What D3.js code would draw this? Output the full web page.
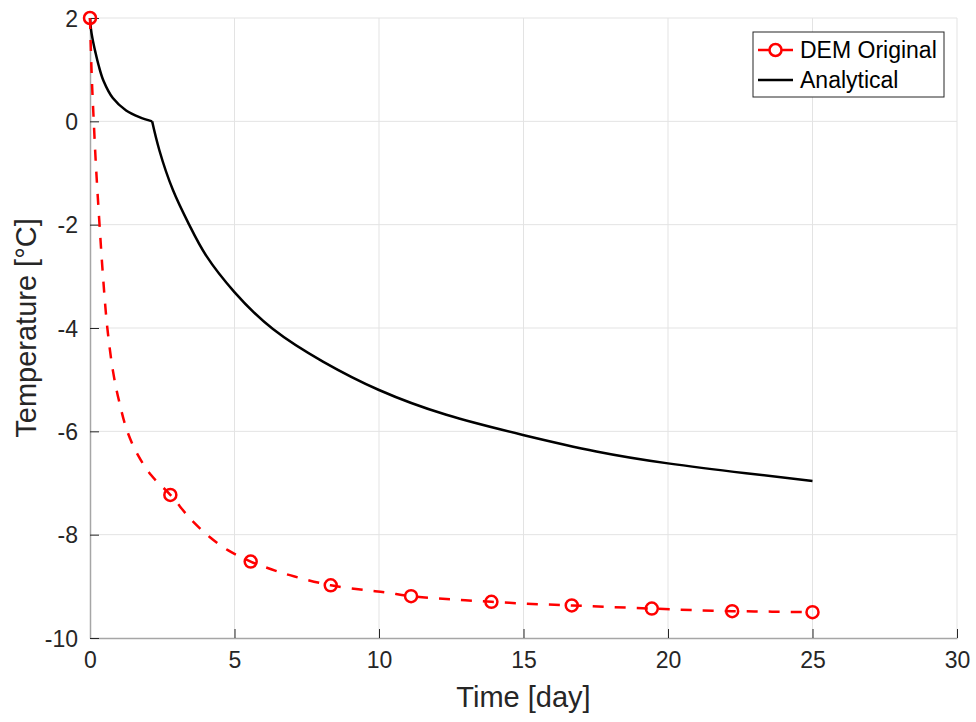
<!DOCTYPE html>
<html>
<head>
<meta charset="utf-8">
<script src="https://cdn.jsdelivr.net/npm/d3@7"></script>
<style>
  body { margin: 0; background: #fff; }
  svg text { font-family: "Liberation Sans", Arial, sans-serif; fill: #262626; }
</style>
</head>
<body>
<div id="chart"></div>
<script>
// DEM Original (dense line), days / °C
const demTime = [0, 0.04, 0.08, 0.13, 0.2, 0.33, 0.45, 0.6, 0.8, 1.0, 1.29, 1.65, 2.12, 2.78,
    3.5, 4.13, 4.77, 5.56, 6.27, 7.08, 8.33, 9.5, 10.25, 11.11, 12.5, 13.89, 15.3, 16.67, 18, 19.44, 20.8, 22.22, 23.6, 25]
const demTemp = [2, 1.2, 0.6, 0, -0.8, -2.0, -3.0, -4.0, -4.85, -5.4, -6.0, -6.45, -6.85, -7.23,
    -7.71, -8.04, -8.3, -8.52, -8.67, -8.81, -8.98, -9.07, -9.12, -9.19, -9.25, -9.3, -9.34, -9.37, -9.4, -9.43, -9.46, -9.48, -9.49, -9.5]
// markers every 25/9 days
const markerTime = [0, 2.78, 5.56, 8.33, 11.11, 13.89, 16.67, 19.44, 22.22, 25]
const markerTemp = [2, -7.23, -8.52, -8.98, -9.19, -9.3, -9.37, -9.43, -9.48, -9.5]

// Analytical
const anaTime = [0, 0.03, 0.08, 0.19, 0.3, 0.47, 0.79, 1.25, 1.71, 2.15, 2.4, 2.87, 3.44, 4.02, 4.99, 6.33, 8.06, 10,
    12.33, 14.98, 17.52, 20, 22.7, 25]
const anaTemp = [2, 1.8, 1.62, 1.33, 1.08, 0.78, 0.45, 0.21, 0.08, 0, -0.56, -1.33, -2.01, -2.6, -3.3, -4.02, -4.65, -5.2,
    -5.68, -6.07, -6.39, -6.62, -6.81, -6.96]

const xTicks = [0, 5, 10, 15, 20, 25, 30]
const yTicks = [-10, -8, -6, -4, -2, 0, 2]
const legendLabels = ["DEM Original", "Analytical"]

const width = 976, height = 722
const margin = {top: 18, right: 19, bottom: 84, left: 90}

const svg = d3.select("#chart").append("svg")
    .attr("width", width)
    .attr("height", height)

const xScale = d3.scaleLinear().domain([0, 30]).range([margin.left, width - margin.right])
const yScale = d3.scaleLinear().domain([-10, 2]).range([height - margin.bottom, margin.top])

// grid
svg.append("g").selectAll("line")
    .data(xTicks.slice(1))
    .join("line")
    .attr("x1", d => xScale(d)).attr("x2", d => xScale(d))
    .attr("y1", yScale(-10)).attr("y2", yScale(2))
    .attr("stroke", "#e3e3e3").attr("stroke-width", 1)
svg.append("g").selectAll("line")
    .data(yTicks.slice(1))
    .join("line")
    .attr("x1", xScale(0)).attr("x2", xScale(30))
    .attr("y1", d => yScale(d)).attr("y2", d => yScale(d))
    .attr("stroke", "#e3e3e3").attr("stroke-width", 1)

// axes (hyphen minus like the original, not d3's U+2212)
const fmt = d => String(d)
const xAxis = d3.axisBottom(xScale).tickValues(xTicks).tickFormat(fmt).tickSizeInner(-9).tickSizeOuter(0).tickPadding(14)
const yAxis = d3.axisLeft(yScale).tickValues(yTicks).tickFormat(fmt).tickSizeInner(-9).tickSizeOuter(0).tickPadding(12)

const gx = svg.append("g")
    .attr("transform", `translate(0, ${yScale(-10)})`)
    .call(xAxis)
const gy = svg.append("g")
    .attr("transform", `translate(${xScale(0)}, 0)`)
    .call(yAxis)

for (const g of [gx, gy]) {
    g.select(".domain").attr("stroke", "#a6a6a6").attr("stroke-width", 1.5)
    g.selectAll(".tick line").attr("stroke", "#262626").attr("stroke-width", 1)
    g.selectAll(".tick text").attr("font-size", 23).attr("fill", "#262626")
        .style("font-family", "'Liberation Sans', Arial, sans-serif")
}
gy.selectAll(".tick text").attr("dy", "0.36em")

// axis labels
svg.append("text")
    .attr("x", (xScale(0) + xScale(30)) / 2)
    .attr("y", 707)
    .attr("text-anchor", "middle")
    .attr("font-size", 29)
    .text("Time [day]")
svg.append("text")
    .attr("transform", `translate(36, ${(yScale(-10) + yScale(2)) / 2}) rotate(-90)`)
    .attr("text-anchor", "middle")
    .attr("font-size", 29)
    .text("Temperature [°C]")

const line = d3.line()
    .x(d => xScale(d[0]))
    .y(d => yScale(d[1]))
    .curve(d3.curveCatmullRom.alpha(0.5))
const smoothLine = d3.line()
    .x(d => xScale(d[0]))
    .y(d => yScale(d[1]))
    .curve(d3.curveNatural)

// analytical: smooth before and after the corner at T = 0
const ana = d3.zip(anaTime, anaTemp)
const corner = anaTemp.indexOf(0)
svg.append("path")
    .datum(ana.slice(0, corner + 1))
    .attr("fill", "none")
    .attr("stroke", "#000")
    .attr("stroke-width", 2.5)
    .attr("d", line)
svg.append("path")
    .datum(ana.slice(corner))
    .attr("fill", "none")
    .attr("stroke", "#000")
    .attr("stroke-width", 2.5)
    .attr("d", smoothLine)

// DEM
svg.append("path")
    .datum(d3.zip(demTime, demTemp))
    .attr("fill", "none")
    .attr("stroke", "#ff0000")
    .attr("stroke-width", 2.5)
    .attr("stroke-dasharray", "11,11")
    .attr("d", line)

svg.append("g").selectAll("circle")
    .data(d3.zip(markerTime, markerTemp))
    .join("circle")
    .attr("cx", d => xScale(d[0]))
    .attr("cy", d => yScale(d[1]))
    .attr("r", 6)
    .attr("fill", "none")
    .attr("stroke", "#ff0000")
    .attr("stroke-width", 2.5)

// legend
const lg = svg.append("g").attr("transform", "translate(753, 32)")
lg.append("rect")
    .attr("width", 191).attr("height", 65)
    .attr("fill", "#fff")
    .attr("stroke", "#262626").attr("stroke-width", 1)
const rowY = [18, 48]
lg.append("line")
    .attr("x1", 5).attr("x2", 40).attr("y1", rowY[0]).attr("y2", rowY[0])
    .attr("stroke", "#ff0000").attr("stroke-width", 2.5)
lg.append("circle")
    .attr("cx", 22.5).attr("cy", rowY[0]).attr("r", 6)
    .attr("fill", "#fff").attr("stroke", "#ff0000").attr("stroke-width", 2.5)
lg.append("line")
    .attr("x1", 5).attr("x2", 40).attr("y1", rowY[1]).attr("y2", rowY[1])
    .attr("stroke", "#000").attr("stroke-width", 2.5)
lg.selectAll("text.lab")
    .data(legendLabels)
    .join("text")
    .attr("class", "lab")
    .attr("x", 47)
    .attr("y", (d, i) => rowY[i])
    .attr("dy", "0.36em")
    .attr("font-size", 23)
    .style("fill", "#000")
    .text(d => d)
</script>
</body>
</html>
